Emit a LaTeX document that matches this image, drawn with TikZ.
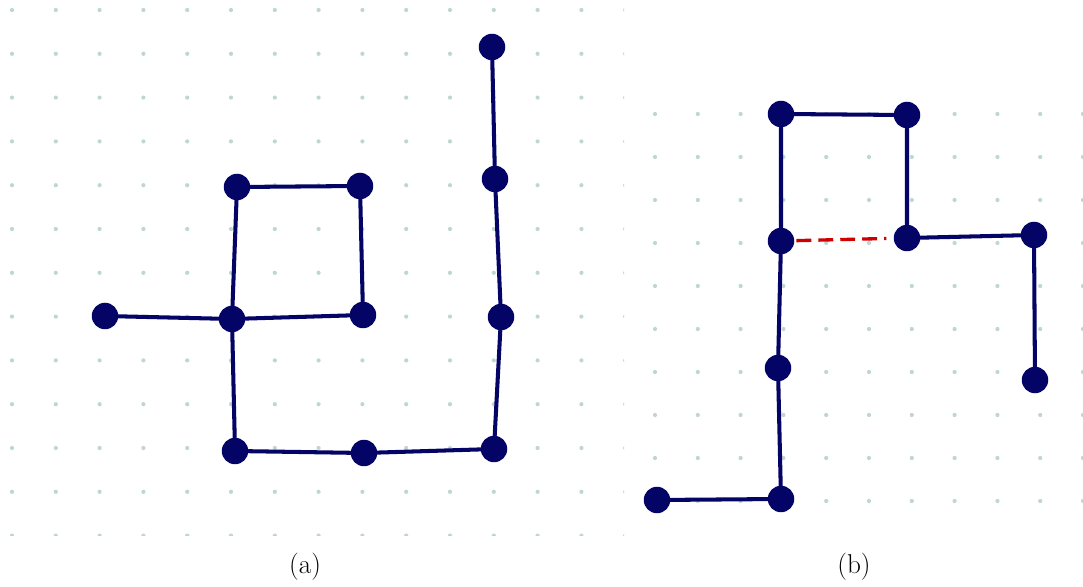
\documentclass[tikz,border=0pt]{standalone}
\usepackage{tikz}
\usetikzlibrary{positioning}
\definecolor{inkblue}  {RGB}{  4,   4, 102}
\definecolor{gridgray} {RGB}{190, 214, 214}
\definecolor{inkred}   {RGB}{204,   0,   0}
\tikzset{
	blob/.style={circle,fill=inkblue,inner sep=0pt,minimum size=0.53cm},
	stroke/.style={draw=inkblue,line width=2.3pt,line cap=round},
	missing/.style={draw=inkred,line width=1.9pt,dash pattern=on 8.5pt off 4pt},
	caption/.style={font=\fontsize{15.5}{18}\selectfont}
}

\begin{document}
\begin{tikzpicture}[x=0.02cm,y=-0.02cm]
	\useasboundingbox (0,0) rectangle (1083,587);
	% dot paper (a)
	\begin{scope}
		\clip (0,0) rectangle (624,536);
		\foreach \i in {0,...,14}
			\foreach \j in {0,...,12}
				\fill[gridgray] (12+43.8*\i,10+43.8*\j) circle (1.2pt);
	\end{scope}
	% dot paper (b)
	\begin{scope}
		\clip (624,0) rectangle (1083,587);
		\foreach \i in {0,...,10}
			\foreach \j in {0,...,9}
				\fill[gridgray] (655+42.8*\i,114+43*\j) circle (1.2pt);
	\end{scope}
	% walk (a)
	\node[blob] (a1)  at (105,316) {};
	\node[blob] (a2)  at (232,319) {};
	\node[blob] (a3)  at (363,315) {};
	\node[blob] (a4)  at (237,187) {};
	\node[blob] (a5)  at (360,186) {};
	\node[blob] (a6)  at (235,451) {};
	\node[blob] (a7)  at (364,453) {};
	\node[blob] (a8)  at (494,449) {};
	\node[blob] (a9)  at (501,317) {};
	\node[blob] (a10) at (495,179) {};
	\node[blob] (a11) at (492,47)  {};
	\draw[stroke] (a1)--(a2) (a2)--(a3) (a2)--(a4) (a4)--(a5) (a5)--(a3)
		(a2)--(a6) (a6)--(a7) (a7)--(a8) (a8)--(a9) (a9)--(a10) (a10)--(a11);
	% walk (b)
	\node[blob] (b1) at (781,114) {};
	\node[blob] (b2) at (907,115) {};
	\node[blob] (b3) at (781,241) {};
	\node[blob] (b4) at (907,238) {};
	\node[blob] (b5) at (1034,235) {};
	\node[blob] (b6) at (1035,380) {};
	\node[blob] (b7) at (778,368) {};
	\node[blob] (b8) at (781,499) {};
	\node[blob] (b9) at (657,500) {};
	\draw[stroke] (b1)--(b2) (b1)--(b3) (b2)--(b4) (b4)--(b5) (b5)--(b6)
		(b3)--(b7) (b7)--(b8) (b8)--(b9);
	\draw[missing,shorten <=1pt,shorten >=4pt] (b3)--(b4);
	% captions
	\node[caption] (capa) at (305,567) {(a)};
	\node[caption] (capb) at (854,567) {(b)};
\end{tikzpicture}
\end{document}
